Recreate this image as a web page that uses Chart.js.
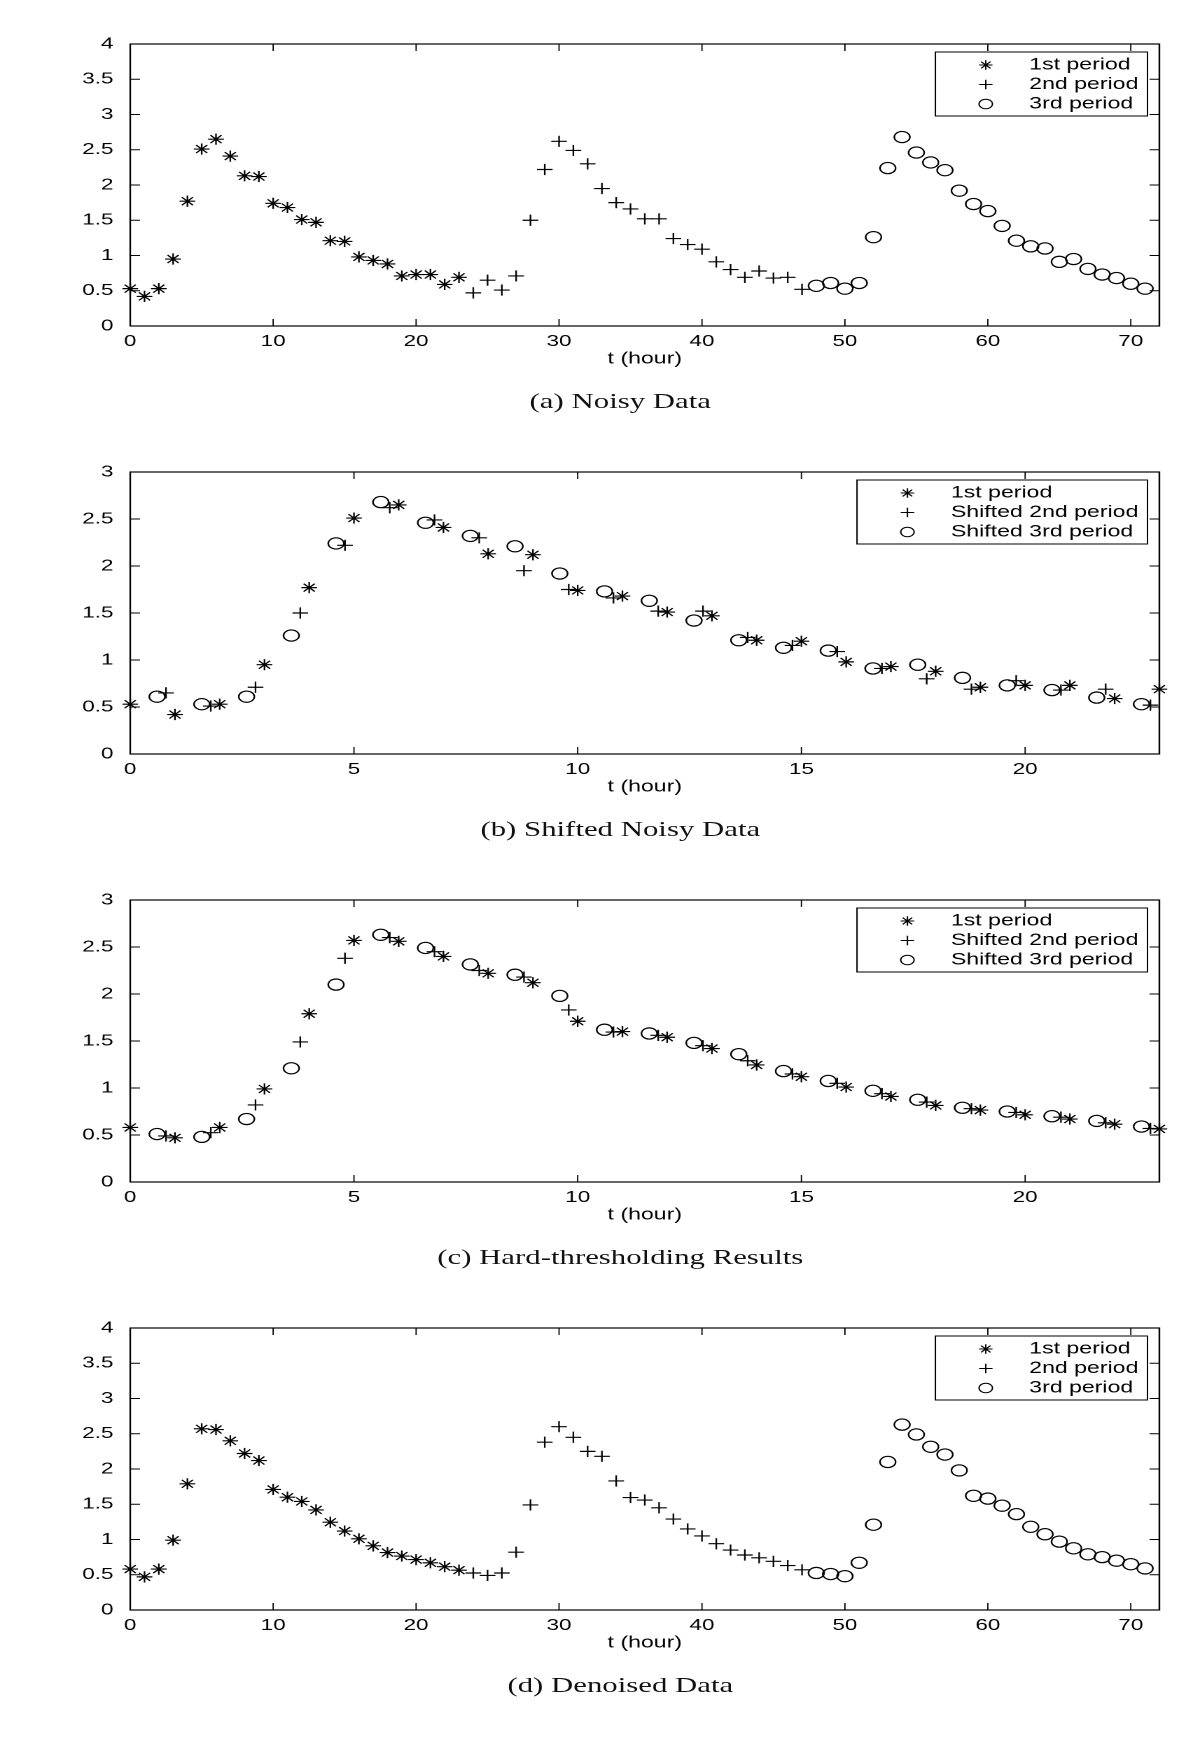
<!DOCTYPE html>
<html>
<head>
<meta charset="utf-8">
<title>Noisy / shifted / denoised periods</title>
<script src="https://cdn.jsdelivr.net/npm/chart.js@4.4.1/dist/chart.umd.min.js"></script>
<style>
  body { margin: 0; background: #fff; overflow: hidden; }
  /* the original figure is stretched sideways, so the whole page is too */
  #page { position: relative; width: 857px; height: 1744px; transform: scaleX(1.4002); transform-origin: 0 0; }
  .panel { position: absolute; left: 0; }
  .caption {
    position: absolute; left: 443px; transform: translateX(-50%);
    white-space: nowrap; font-family: "Liberation Serif", "DejaVu Serif", serif;
    font-size: 22px; line-height: 22px; color: #111;
  }
</style>
</head>
<body>
<div id="page">
  <canvas class="panel" id="chartA" width="857" height="428" style="top:0px"></canvas>
  <div class="caption" style="top:390px">(a) Noisy Data</div>
  <canvas class="panel" id="chartB" width="857" height="428" style="top:428px"></canvas>
  <div class="caption" style="top:818px">(b) Shifted Noisy Data</div>
  <canvas class="panel" id="chartC" width="857" height="428" style="top:856px"></canvas>
  <div class="caption" style="top:1246px">(c) Hard-thresholding Results</div>
  <canvas class="panel" id="chartD" width="857" height="428" style="top:1284px"></canvas>
  <div class="caption" style="top:1674px">(d) Denoised Data</div>
</div>
<script>
// time of each sample (hours)
const hours1 = [0,1,2,3,4,5,6,7,8,9,10,11,12,13,14,15,16,17,18,19,20,21,22,23];
const hours2 = [24,25,26,27,28,29,30,31,32,33,34,35,36,37,38,39,40,41,42,43,44,45,46,47];
const hours3 = [48,49,50,51,52,53,54,55,56,57,58,59,60,61,62,63,64,65,66,67,68,69,70,71];

// positions of the 2nd (t = 25..47) and 3rd (t = 49..71) periods after shifting
const shifted2 = [0.8,1.8,2.8,3.8,4.8,5.8,6.8,7.8,8.8,9.8,10.8,11.8,12.8,13.8,14.8,15.8,16.8,17.8,18.8,19.8,20.8,21.8,22.8];
const shifted3 = [0.6,1.6,2.6,3.6,4.6,5.6,6.6,7.6,8.6,9.6,10.6,11.6,12.6,13.6,14.6,15.6,16.6,17.6,18.6,19.6,20.6,21.6,22.6];

// noisy data
const noisy1 = [0.53,0.42,0.53,0.95,1.77,2.51,2.65,2.41,2.13,2.12,1.74,1.68,1.51,1.47,1.21,1.20,0.98,0.93,0.88,0.71,0.73,0.73,0.59,0.69];
const noisy2 = [0.47,0.65,0.51,0.71,1.50,2.22,2.62,2.49,2.30,1.95,1.75,1.66,1.52,1.52,1.24,1.155,1.09,0.91,0.80,0.69,0.78,0.68,0.69,0.52];
const noisy3 = [0.57,0.61,0.53,0.61,1.26,2.24,2.68,2.46,2.32,2.21,1.92,1.73,1.63,1.42,1.21,1.13,1.10,0.91,0.95,0.81,0.73,0.68,0.60,0.53];

// hard-thresholding (denoised) data
const denoised1 = [0.58,0.47,0.58,0.99,1.79,2.57,2.56,2.40,2.22,2.12,1.71,1.60,1.54,1.42,1.245,1.12,1.01,0.91,0.815,0.765,0.715,0.67,0.615,0.565];
const denoised2 = [0.525,0.49,0.525,0.82,1.49,2.38,2.60,2.45,2.25,2.18,1.83,1.595,1.56,1.45,1.29,1.15,1.05,0.94,0.85,0.78,0.74,0.69,0.63,0.57];
const denoised3 = [0.525,0.51,0.48,0.67,1.21,2.10,2.63,2.49,2.315,2.205,1.98,1.62,1.58,1.48,1.36,1.18,1.075,0.97,0.875,0.79,0.75,0.70,0.65,0.59];

// tick labels
const xTicksFull = [0,10,20,30,40,50,60,70];
const xTicksShift = [0,5,10,15,20];
const yTicksFull = [0,0.5,1,1.5,2,2.5,3,3.5,4];
const yTicksShift = [0,0.5,1,1.5,2,2.5,3];

// legend texts
const legendFull = ["1st period", "2nd period", "3rd period"];
const legendShift = ["1st period", "Shifted 2nd period", "Shifted 3rd period"];
const markers = ["star", "cross", "circle"];

Chart.defaults.font.family = '"Liberation Sans", Arial, sans-serif';
Chart.defaults.font.size = 16;
Chart.defaults.color = "#000";

function pts(xs, ys) {
  return xs.map((x, i) => ({ x: x, y: ys[i] }));
}

function drawMarker(ctx, style, x, y, r) {
  ctx.beginPath();
  if (style === "circle") {
    ctx.arc(x, y, r, 0, 2 * Math.PI);
  } else {
    ctx.moveTo(x - r, y); ctx.lineTo(x + r, y);
    ctx.moveTo(x, y - r); ctx.lineTo(x, y + r);
    if (style === "star") {
      const d = r * Math.SQRT1_2;
      ctx.moveTo(x - d, y - d); ctx.lineTo(x + d, y + d);
      ctx.moveTo(x - d, y + d); ctx.lineTo(x + d, y - d);
    }
  }
  ctx.stroke();
}

// matlab style box: frame + ticks pointing inwards on all four sides
const boxAxes = {
  id: "boxAxes",
  afterDraw(chart) {
    const { ctx, chartArea: a } = chart;
    const xs = chart.scales.x, ys = chart.scales.y;
    ctx.save();
    ctx.strokeStyle = "#000";
    ctx.lineWidth = 1.2;
    ctx.strokeRect(a.left, a.top, a.right - a.left, a.bottom - a.top);
    ctx.lineWidth = 0.9;
    ctx.beginPath();
    xs.ticks.forEach(t => {
      const px = xs.getPixelForValue(t.value);
      ctx.moveTo(px, a.bottom); ctx.lineTo(px, a.bottom - 7);
      ctx.moveTo(px, a.top); ctx.lineTo(px, a.top + 7);
    });
    ys.ticks.forEach(t => {
      const py = ys.getPixelForValue(t.value);
      ctx.moveTo(a.left, py); ctx.lineTo(a.left + 7, py);
      ctx.moveTo(a.right, py); ctx.lineTo(a.right - 7, py);
    });
    ctx.stroke();
    ctx.restore();
  }
};

// boxed legend in the upper right corner
const boxLegend = {
  id: "boxLegend",
  afterDraw(chart, args, opts) {
    const { ctx, chartArea: a } = chart;
    ctx.save();
    ctx.font = '16.5px "Liberation Sans", Arial, sans-serif';
    const textW = Math.max(...opts.labels.map(l => ctx.measureText(l).width));
    const right = a.right - 8.5;
    const left = right - (67 + textW + 6.5);
    const top = a.top + 8;
    ctx.fillStyle = "#fff";
    ctx.fillRect(left, top, right - left, 64);
    ctx.strokeStyle = "#000";
    ctx.lineWidth = 1;
    ctx.strokeRect(left, top, right - left, 64);
    ctx.fillStyle = "#000";
    ctx.textBaseline = "middle";
    opts.labels.forEach((l, i) => {
      const y = top + 13 + i * 19.5;
      ctx.lineWidth = 1;
      drawMarker(ctx, markers[i], left + 36, y, 4.8);
      ctx.fillText(l, left + 67, y);
    });
    ctx.restore();
  }
};

function makeChart(id, sets, xMax, xTicks, yMax, yTicks, labels) {
  new Chart(document.getElementById(id), {
    type: "scatter",
    data: {
      datasets: sets.map((s, i) => ({
        label: labels[i],
        data: s,
        pointStyle: markers[i],
        pointRadius: 5.6,
        pointHoverRadius: 5.6,
        pointBorderWidth: 1.15,
        borderColor: "#000",
        backgroundColor: "rgba(0,0,0,0)",
        showLine: false,
        clip: false
      }))
    },
    options: {
      responsive: false,
      animation: false,
      devicePixelRatio: 2,
      events: [],
      layout: { padding: { top: 44, right: 29, bottom: 59, left: 0 } },
      plugins: {
        legend: { display: false },
        tooltip: { enabled: false },
        boxLegend: { labels: labels }
      },
      scales: {
        x: {
          type: "linear", min: 0, max: xMax,
          grid: { display: false }, border: { display: false },
          afterBuildTicks: s => { s.ticks = xTicks.map(v => ({ value: v })); },
          afterFit: s => { s.height = 43; },
          ticks: { padding: -2, maxRotation: 0, callback: v => String(v) },
          title: { display: true, text: "t (hour)", font: { size: 16.5 }, padding: 0 }
        },
        y: {
          type: "linear", min: 0, max: yMax,
          grid: { display: false }, border: { display: false },
          afterBuildTicks: s => { s.ticks = yTicks.map(v => ({ value: v })); },
          afterFit: s => { s.width = 93; },
          ticks: { padding: 4, callback: v => String(v) }
        }
      }
    },
    plugins: [boxAxes, boxLegend]
  });
}

makeChart("chartA",
  [pts(hours1, noisy1), pts(hours2, noisy2), pts(hours3, noisy3)],
  72, xTicksFull, 4, yTicksFull, legendFull);

makeChart("chartB",
  [pts(hours1, noisy1), pts(shifted2, noisy2.slice(1)), pts(shifted3, noisy3.slice(1))],
  23, xTicksShift, 3, yTicksShift, legendShift);

makeChart("chartC",
  [pts(hours1, denoised1), pts(shifted2, denoised2.slice(1)), pts(shifted3, denoised3.slice(1))],
  23, xTicksShift, 3, yTicksShift, legendShift);

makeChart("chartD",
  [pts(hours1, denoised1), pts(hours2, denoised2), pts(hours3, denoised3)],
  72, xTicksFull, 4, yTicksFull, legendFull);
</script>
</body>
</html>
